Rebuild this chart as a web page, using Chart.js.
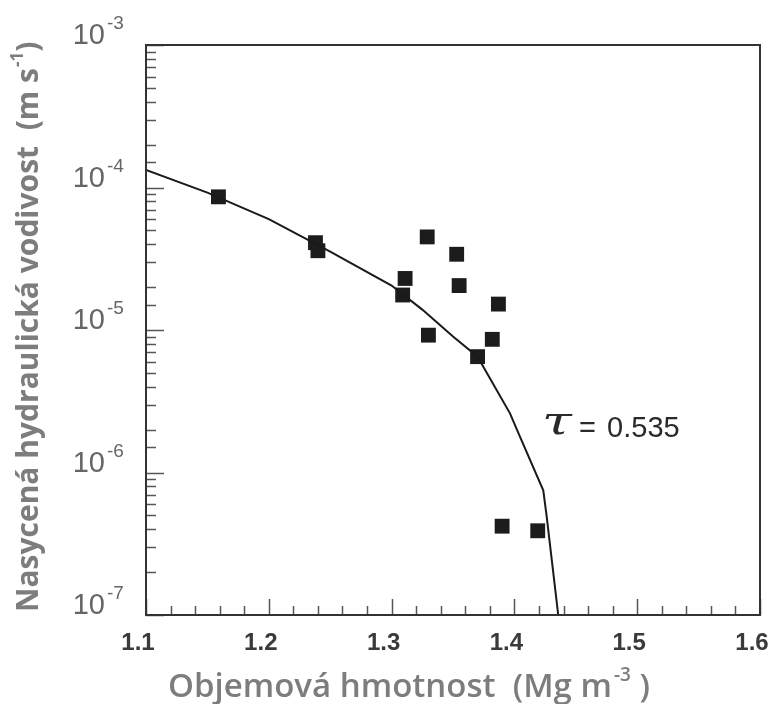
<!DOCTYPE html>
<html>
<head>
<meta charset="utf-8">
<title>Nasycená hydraulická vodivost</title>
<script src="https://cdn.jsdelivr.net/npm/chart.js@4.4.1/dist/chart.umd.min.js"></script>
<style>
    html, body { margin: 0; padding: 0; background: #fff; }
    #wrap { width: 779px; height: 704px; }
</style>
</head>
<body>
<div id="wrap"><canvas id="chart" width="779" height="704"></canvas></div>
<script>
// naměřené body (objemová hmotnost, Mg m-3 / nasycená hydraulická vodivost, m s-1)
const measuredX = [1.159, 1.238, 1.240, 1.311, 1.309, 1.329, 1.353, 1.355, 1.387, 1.330, 1.382, 1.370, 1.390, 1.419];
const measuredK = [8.6e-5, 4.1e-5, 3.6e-5, 2.3e-5, 1.76e-5, 4.5e-5, 3.4e-5, 2.05e-5, 1.52e-5, 9.2e-6, 8.6e-6, 6.5e-6, 4.2e-7, 3.9e-7];

// modelová křivka
const modelX = [1.10, 1.15, 1.20, 1.25, 1.30, 1.325, 1.35, 1.37, 1.3964, 1.4046, 1.4235, 1.4263, 1.4357];
const modelK = [1.33e-4, 9.2e-5, 6.0e-5, 3.55e-5, 2.05e-5, 1.39e-5, 9.0e-6, 6.5e-6, 2.6e-6, 1.78e-6, 7.5e-7, 4.9e-7, 1.0e-7];

// popisky os
const xTickLabels = ['1.1', '1.2', '1.3', '1.4', '1.5', '1.6'];
const yTickExponents = [-7, -6, -5, -4, -3];
const tauLabel = ['τ', '=', '0.535'];
const tauPos = [1.425, 2.05e-6];

// rámeček, dovnitř směřující značky a popisky
const axesPlugin = {
    id: 'axesPlugin',
    beforeDatasetsDraw(chart) {
        const { ctx, chartArea: a, scales: { x, y } } = chart;
        ctx.save();
        ctx.strokeStyle = '#555';
        ctx.lineWidth = 1.5;

        // značky osy x
        x.ticks.forEach(t => {
            const px = Math.round(x.getPixelForValue(t.value)) + 0.5;
            const major = Math.abs(t.value * 10 - Math.round(t.value * 10)) < 1e-6;
            const len = major ? 16 : 9;
            ctx.beginPath();
            ctx.moveTo(px, a.bottom);
            ctx.lineTo(px, a.bottom - len);
            ctx.stroke();
        });

        // značky osy y (logaritmické)
        y.ticks.forEach(t => {
            const lg = Math.log10(t.value);
            const major = Math.abs(lg - Math.round(lg)) < 1e-6;
            const py = Math.round(y.getPixelForValue(t.value)) + 0.5;
            const len = major ? 18 : 10;
            ctx.beginPath();
            ctx.moveTo(a.left, py);
            ctx.lineTo(a.left + len, py);
            ctx.stroke();
        });
        ctx.restore();
    },
    afterDatasetsDraw(chart) {
        const { ctx, chartArea: a, scales: { x, y } } = chart;
        ctx.save();

        // rámeček grafu
        ctx.strokeStyle = '#333';
        ctx.lineWidth = 2;
        ctx.strokeRect(a.left, a.top, a.right - a.left, a.bottom - a.top);

        // popisky osy x
        ctx.fillStyle = '#3a3a3a';
        ctx.font = 'bold 24px "Liberation Sans"';
        ctx.textAlign = 'center';
        ctx.textBaseline = 'alphabetic';
        xTickLabels.forEach(lbl => {
            const px = x.getPixelForValue(parseFloat(lbl));
            ctx.fillText(lbl, px - 8, 650);
        });

        // popisky osy y: 10 s exponentem
        ctx.fillStyle = '#666';
        yTickExponents.forEach(e => {
            const py = y.getPixelForValue(Math.pow(10, e));
            ctx.textAlign = 'right';
            ctx.font = '29px "Liberation Sans"';
            ctx.fillText('10', 105, py - 1);
            ctx.textAlign = 'left';
            ctx.font = '19px "Liberation Sans"';
            ctx.fillText(String(e), 107, py - 16);
        });

        // tau
        const tx = x.getPixelForValue(tauPos[0]);
        const ty = y.getPixelForValue(tauPos[1]);
        ctx.fillStyle = '#2a2a2a';
        ctx.textAlign = 'left';
        ctx.save();
        ctx.translate(tx - 3, ty + 6);
        ctx.scale(1.35, 1);
        ctx.font = 'italic 40px "DejaVu Serif"';
        ctx.fillText(tauLabel[0], 0, 0);
        ctx.restore();
        ctx.font = '29px "Liberation Sans"';
        ctx.fillText(tauLabel[1], tx + 34, ty + 9);
        ctx.fillText(tauLabel[2], tx + 62, ty + 9);

        // název osy x
        ctx.fillStyle = '#7d7d7d';
        let cx = 168;
        ctx.font = '600 33px "Open Sans"';
        const xt1 = 'Objemová hmotnost  (Mg m';
        ctx.fillText(xt1, cx, 697);
        cx += ctx.measureText(xt1).width + 2;
        ctx.font = '600 19px "Open Sans"';
        ctx.fillText('-3', cx, 681);
        cx += ctx.measureText('-3').width;
        ctx.font = '600 33px "Open Sans"';
        ctx.fillText(' )', cx, 697);

        // název osy y
        ctx.translate(38, 612);
        ctx.rotate(-Math.PI / 2);
        let cy = 0;
        ctx.font = 'bold 30px "Open Sans"';
        const yt1 = 'Nasycená hydraulická vodivost  (m s';
        ctx.fillText(yt1, cy, 0);
        cy += ctx.measureText(yt1).width + 1;
        ctx.font = 'bold 17px "Open Sans"';
        ctx.fillText('-1', cy, -15);
        cy += ctx.measureText('-1').width;
        ctx.font = 'bold 30px "Open Sans"';
        ctx.fillText(')', cy, 0);

        ctx.restore();
    }
};

const measuredPoints = measuredX.map((v, i) => ({ x: v, y: measuredK[i] }));
const modelPoints = modelX.map((v, i) => ({ x: v, y: modelK[i] }));

new Chart(document.getElementById('chart'), {
    type: 'scatter',
    data: {
        datasets: [{
            label: 'model',
            data: modelPoints,
            showLine: true,
            borderColor: '#1a1a1a',
            borderWidth: 2,
            pointRadius: 0,
            tension: 0,
            fill: false
        }, {
            label: 'měření',
            data: measuredPoints,
            pointStyle: 'rect',
            pointRadius: 10.5,
            pointBackgroundColor: '#1c1c1c',
            pointBorderColor: '#1c1c1c',
            pointBorderWidth: 0
        }]
    },
    options: {
        responsive: false,
        animation: false,
        devicePixelRatio: 1,
        layout: { padding: { top: 45, right: 19, left: 0, bottom: 0 } },
        plugins: {
            legend: { display: false },
            tooltip: { enabled: false }
        },
        scales: {
            x: {
                type: 'linear',
                min: 1.1,
                max: 1.6,
                grid: { display: false },
                border: { display: false },
                ticks: { display: false, stepSize: 0.02, autoSkip: false },
                afterFit: (s) => { s.height = 89; }
            },
            y: {
                type: 'logarithmic',
                min: 1e-7,
                max: 1e-3,
                grid: { display: false },
                border: { display: false },
                ticks: { display: false, autoSkip: false },
                afterFit: (s) => { s.width = 146; }
            }
        }
    },
    plugins: [axesPlugin]
});
</script>
</body>
</html>
